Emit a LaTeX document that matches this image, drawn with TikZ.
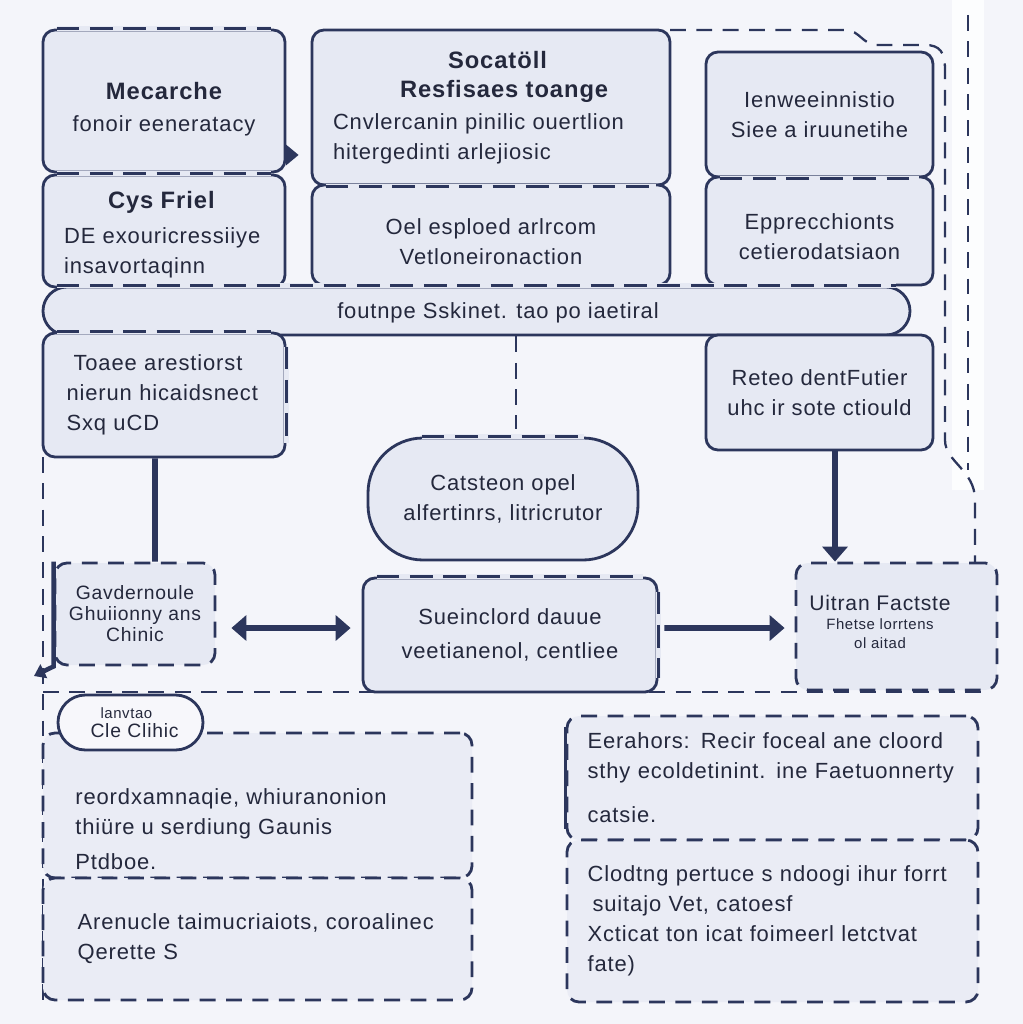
\documentclass[tikz,border=0pt]{standalone}
\usepackage{fontspec}
\setmainfont{Liberation Sans}[LetterSpace=4]
\usetikzlibrary{arrows.meta}

\definecolor{pagebg}{RGB}{244,245,250}
\definecolor{boxfill}{RGB}{230,233,243}
\definecolor{lowfill}{RGB}{234,236,245}
\definecolor{ink}{RGB}{44,54,92}
\definecolor{txt}{RGB}{36,40,60}

\newcommand\bodyfont{\fontsize{12.5}{17}\selectfont}
\newcommand\headfont{\fontsize{13.5}{17}\selectfont\bfseries}
\newcommand\smallfont{\fontsize{11}{12}\selectfont}
\newcommand\tinyfont{\fontsize{8.5}{11}\selectfont}

\tikzset{
  sz/.style 2 args={minimum width=#1*0.02cm, minimum height=#2*0.02cm}, % sizes in pixels
  panel/.style={draw=ink, fill=boxfill, line width=1.6pt, rounded corners=0.24cm,
    inner sep=0pt, text=txt, font=\bodyfont, align=center},
  dpanel/.style={panel, dash pattern=on 9pt off 6pt},
  pill/.style={panel, rounded corners=1.1cm},
  dline/.style={draw=ink, line width=1.6pt, dash pattern=on 13pt off 6pt,
    shorten <=0.3cm, shorten >=0.3cm, preaction={draw=boxfill, solid, line width=3pt}},
  sline/.style={draw=ink, line width=1.6pt},
  frame/.style={draw=ink, line width=1.3pt, dash pattern=on 9pt off 6pt},
  heavy/.style={draw=ink, line width=3.2pt},
  heavyarrow/.style={heavy, -{Triangle[length=0.3cm, width=0.5cm]}},
  twoway/.style={heavy, {Triangle[length=0.3cm, width=0.5cm]}-{Triangle[length=0.3cm, width=0.5cm]}},
  txtnode/.style={inner sep=0pt, text=txt, font=\bodyfont, align=left},
}

\begin{document}
\begin{tikzpicture}[x=0.02cm, y=-0.02cm]
\fill[pagebg] (0,0) rectangle (1023,1024);
\useasboundingbox (0,0) rectangle (1023,1024);

% light strip and outer dashed frame
\fill[white, opacity=0.8] (952,0) rectangle (984,490);
\draw[frame] (670,30) -- (845,30) .. controls (860,30) and (862,45) .. (878,45) -- (925,45)
  .. controls (940,45) and (945,52) .. (945,70) -- (945,440)
  .. controls (945,462) and (975,470) .. (975,500) -- (975,563);
\draw[frame] (968,15) -- (968,470);
\draw[frame] (43,457) -- (43,1000);
\draw[frame] (43,692) -- (990,692);

% top rows
\node[panel, sz={242}{142}] (mecarche) at (164,101) {\rule{0pt}{0.66cm}{\headfont Mecarche}\\[1pt]fonoir eeneratacy};
\node[panel, sz={242}{112}, text width=4cm, align=left] (cysfriel) at (164,231)
  {\hspace*{0.88cm}\rule{0pt}{0.5cm}{\headfont Cys Friel}\\[3pt]DE exouricressiiye\\insavortaqinn};
\node[panel, sz={358}{155}, text width=6.32cm, align=left] (socat) at (491,107.5)
  {\hspace*{2.3cm}{\headfont Socatöll}\\\hspace*{1.34cm}{\headfont Resfisaes toange}\\[1pt]Cnvlercanin pinilic ouertlion\\hitergedinti arlejiosic};
\node[panel, sz={358}{100}] (esploed) at (491,235) {\rule{0pt}{0.6cm}Oel esploed arlrcom\\Vetloneironaction};
\node[panel, sz={227}{125}] (lenwee) at (819.5,114.5) {Ienweeinnistio\\Siee a iruunetihe};
\node[panel, sz={227}{108}] (epprec) at (819.5,231) {\rule{0pt}{0.55cm}Epprecchionts\\cetierodatsiaon};

% wide bar
\node[panel, sz={867}{48}, rounded corners=0.48cm] (bar) at (476.5,311) {};
\node[txtnode] (bartext) at (498,313) {foutnpe Sskinet. tao po iaetiral};

% middle
\node[panel, sz={242}{124}, text width=3.9cm, align=left] (toaee) at (164,395)
  {\hspace*{0.14cm}Toaee arestiorst\\nierun hicaidsnect\\Sxq uCD};
\node[panel, sz={227}{115}] (reteo) at (819.5,392.5) {Reteo dentFutier\\uhc ir sote ctiould};
\node[pill, sz={270}{122}] (catsteon) at (503,499) {Catsteon opel\\alfertinrs, litricrutor};
\node[dpanel, sz={160}{102}, font=\smallfont] (gavd) at (135,614) {Gavdernoule\\Ghuiionny ans\\Chinic};
\node[panel, sz={294}{114}] (sueincl) at (510,635) {Sueinclord dauue\\[2pt]veetianenol, centliee};
\node[dpanel, sz={201}{127}] (uitran) at (896.5,626.5) {};
\node[txtnode, align=center, font=\tinyfont] (uitrantext) at (880,622)
  {{\fontsize{12}{12}\selectfont Uitran Factste}\\Fhetse lorrtens\\ol aitad};

% bottom
\node[dpanel, fill=lowfill, sz={429}{145}] (reordx) at (257.5,805.5) {};
\node[txtnode, anchor=west] (reordxtext) at (75,829)
  {reordxamnaqie, whiuranonion\\thiüre u serdiung Gaunis\\[3pt]Ptdboe.};
\node[dpanel, fill=lowfill, sz={429}{122}, text width=7.2cm, align=left] (arenucle) at (257.5,939)
  {Arenucle taimucriaiots, coroalinec\\Qerette S};
\node[pill, fill=lowfill!40!white, sz={145}{55}, rounded corners=0.55cm, font=\smallfont,
  text width=2.2cm, align=left] (clic) at (130.5,722.5)
  {\hspace*{0.5cm}{\tinyfont lanvtao}\\[-1pt]\hspace*{0.3cm}\mbox{Cle Clihic}};
\node[dpanel, fill=lowfill, sz={411}{124}, text width=7.4cm, align=left] (eerahors) at (772.5,778)
  {Eerahors: Recir foceal ane cloord\\sthy ecoldetinint. ine Faetuonnerty\\[8pt]catsie.};
\node[dpanel, fill=lowfill, sz={411}{162}, text width=7.4cm, align=left] (clodtng) at (772.5,921)
  {Clodtng pertuce s ndoogi ihur forrt\\\hspace*{0.1cm}suitajo Vet, catoesf\\Xcticat ton icat foimeerl letctvat\\fate)};

% mixed borders
\draw[dline] (mecarche.north west) -- (mecarche.north east);
\draw[dline] (cysfriel.north west) -- (cysfriel.north east);
\draw[dline] (socat.south west) -- (socat.south east);
\draw[dline] (lenwee.south west) -- (lenwee.south east);
\draw[dline] (bar.north west) -- (bar.north east);
\draw[dline] (toaee.north west) -- (toaee.north east);
\draw[dline] (toaee.north east) -- (toaee.south east);
\draw[dline, shorten <=1.1cm, shorten >=1.1cm] (catsteon.north west) -- (catsteon.north east);
\draw[dline] (sueincl.north west) -- (sueincl.north east);
\draw[dline] (sueincl.north east) -- (sueincl.south east);
\draw[sline, shorten <=0.24cm, shorten >=0.24cm] (eerahors.north west) -- (eerahors.south west);
\coordinate (gavdtail) at (34,676);
\draw[heavy, line width=2.6pt, -{Triangle[length=0.22cm, width=0.3cm]}] (gavd.north west) -- (gavd.south west) -- (gavdtail);

% connectors
\draw[sline, -{Triangle[length=0.25cm, width=0.4cm]}, shorten >=0.24cm]
  ([yshift=-1.08cm]mecarche.east) -- ([yshift=-0.95cm]socat.west);
\coordinate (bardrop) at ([xshift=0.79cm]bar.south);
\draw[frame, shorten >=0.16cm] (bardrop) -- (bardrop |- catsteon.north);
\draw[heavy] ([xshift=-0.18cm]toaee.south) -- ([xshift=0.4cm]gavd.north);
\draw[twoway, shorten <=0.3cm, shorten >=0.22cm] ([yshift=-0.28cm]gavd.east) -- ([yshift=0.14cm]sueincl.west);
\draw[heavyarrow, shorten <=0.12cm, shorten >=0.2cm] ([yshift=0.14cm]sueincl.east) -- ([yshift=-0.03cm]uitran.west);
\coordinate (retdrop) at ([xshift=0.31cm]reteo.south);
\draw[heavyarrow] (retdrop) -- (retdrop |- uitran.north);
\end{tikzpicture}
\end{document}
